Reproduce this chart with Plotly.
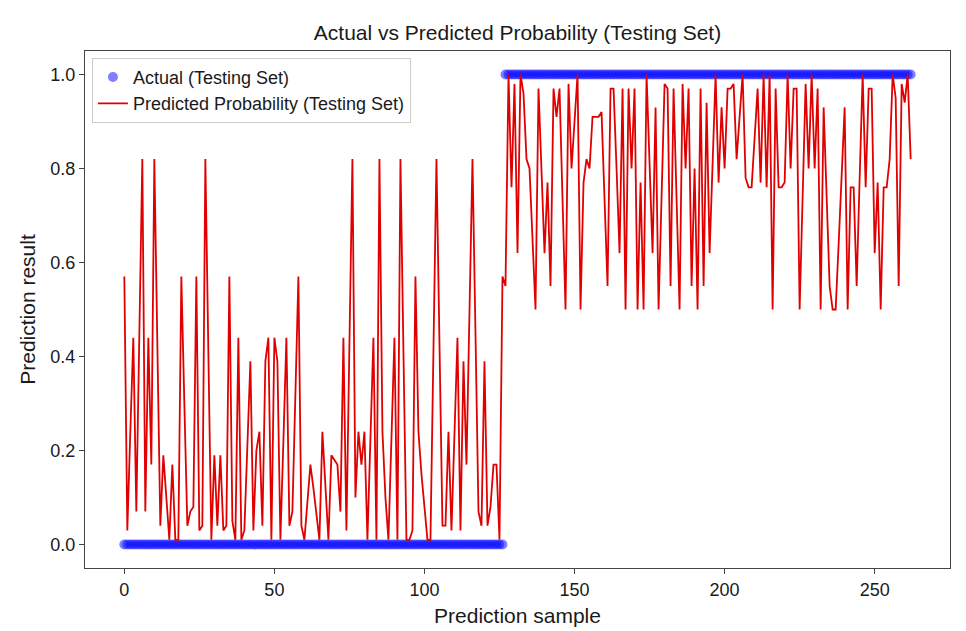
import plotly.graph_objects as go

# Predicted probability, samples 0..126 (actual class 0)
pred_low = [
    0.57, 0.03, 0.24, 0.44, 0.07, 0.45, 0.82, 0.07, 0.44, 0.17,
    0.82, 0.43, 0.04, 0.19, 0.10, 0.01, 0.17, 0.01, 0.01, 0.57,
    0.30, 0.04, 0.07, 0.08, 0.57, 0.03, 0.04, 0.82, 0.41, 0.01,
    0.19, 0.04, 0.19, 0.03, 0.04, 0.57, 0.05, 0.01, 0.44, 0.01,
    0.03, 0.21, 0.39, 0.03, 0.20, 0.24, 0.04, 0.39, 0.44, 0.01,
    0.44, 0.39, 0.01, 0.22, 0.44, 0.04, 0.07, 0.32, 0.57, 0.04,
    0.01, 0.09, 0.17, 0.12, 0.06, 0.01, 0.24, 0.12, 0.01, 0.19,
    0.18, 0.17, 0.07, 0.44, 0.03, 0.42, 0.82, 0.10, 0.24, 0.17,
    0.24, 0.01, 0.22, 0.44, 0.01, 0.82, 0.24, 0.10, 0.01, 0.22,
    0.44, 0.01, 0.82, 0.41, 0.01, 0.01, 0.03, 0.57, 0.24, 0.15,
    0.08, 0.01, 0.01, 0.41, 0.82, 0.43, 0.04, 0.04, 0.24, 0.03,
    0.23, 0.44, 0.03, 0.39, 0.17, 0.50, 0.82, 0.45, 0.07, 0.04,
    0.39, 0.04, 0.08, 0.17, 0.17, 0.01, 0.57,
]

# Predicted probability, samples 127..262 (actual class 1)
pred_high = [
    0.55, 1.00, 0.76, 0.98, 0.62, 1.00, 0.96, 0.82, 0.80, 0.65,
    0.50, 0.97, 0.80, 0.62, 0.77, 0.55, 0.97, 0.91, 0.97, 0.74,
    0.50, 0.98, 0.80, 0.90, 1.00, 0.50, 0.77, 0.82, 0.80, 0.91,
    0.91, 0.91, 0.92, 0.74, 0.55, 0.97, 0.97, 0.80, 0.62, 0.97,
    0.50, 0.97, 0.80, 0.97, 0.50, 0.77, 0.50, 1.00, 0.81, 0.62,
    0.93, 0.50, 0.74, 0.98, 0.97, 0.55, 0.97, 0.74, 0.50, 0.98,
    0.80, 0.97, 0.55, 0.80, 0.50, 0.97, 0.55, 0.94, 0.62, 0.81,
    1.00, 0.77, 0.93, 0.80, 0.97, 0.97, 0.98, 0.82, 0.91, 1.00,
    0.78, 0.76, 0.76, 0.86, 0.97, 0.77, 1.00, 0.76, 1.00, 0.50,
    0.97, 0.76, 0.76, 0.77, 1.00, 0.80, 0.97, 0.97, 0.50, 0.74,
    0.98, 0.80, 1.00, 0.80, 0.97, 0.50, 0.93, 0.74, 0.55, 0.50,
    0.50, 0.64, 0.78, 0.93, 0.50, 0.76, 0.76, 0.55, 0.78, 1.00,
    0.76, 0.97, 0.97, 0.62, 0.77, 0.50, 0.76, 0.76, 0.82, 1.00,
    0.95, 0.55, 0.98, 0.94, 1.00, 0.82,
]

n_class0 = 127
n_class1 = 136
actual = [0] * n_class0 + [1] * n_class1

predicted = pred_low + pred_high
samples = list(range(len(predicted)))

x_ticks = [0, 50, 100, 150, 200, 250]
y_ticks = [0.0, 0.2, 0.4, 0.6, 0.8, 1.0]
y_tick_labels = ["0.0", "0.2", "0.4", "0.6", "0.8", "1.0"]

FONT = "Liberation Sans, Arial, sans-serif"
INK = "#1a1a1a"

# the page body adds an 8px offset, so the figure is sized to fit the window
FIG_W, FIG_H = 958, 623

fig = go.Figure()
fig.add_trace(go.Scatter(
    x=samples, y=actual, mode="markers", name="Actual (Testing Set)",
    marker=dict(color="rgba(0,0,255,0.5)", size=10, line=dict(width=0)),
))
fig.add_trace(go.Scatter(
    x=samples, y=predicted, mode="lines",
    name="Predicted Probability (Testing Set)",
    line=dict(color="#e00000", width=1.8),
))

axis_common = dict(
    showgrid=False, zeroline=False, showline=True, mirror=True,
    linecolor="#444444", linewidth=1.2, ticks="outside", ticklen=5,
    tickwidth=1.2, tickcolor="#444444", automargin=False,
    tickfont=dict(family=FONT, size=18, color=INK),
)

fig.update_layout(
    width=FIG_W, height=FIG_H,
    margin=dict(l=77, r=16, t=43, b=63, autoexpand=False),
    paper_bgcolor="white", plot_bgcolor="white",
    font=dict(family=FONT, color=INK),
    title=dict(text="Actual vs Predicted Probability (Testing Set)",
               x=(77 + 942) / 2 / FIG_W, xref="container", xanchor="center",
               y=1 - 25 / FIG_H, yref="container", yanchor="middle",
               font=dict(family=FONT, size=21, color=INK)),
    xaxis=dict(range=[-13.1, 275.1], tickvals=x_ticks,
               title=dict(text="Prediction sample", standoff=9,
                          font=dict(family=FONT, size=21, color=INK)),
               **axis_common),
    yaxis=dict(range=[-0.05, 1.05], tickvals=y_ticks, ticktext=y_tick_labels,
               title=dict(text="Prediction result", standoff=8,
                          font=dict(family=FONT, size=21, color=INK)),
               **axis_common),
    legend=dict(x=0.008, y=0.987, xanchor="left", yanchor="top",
                bgcolor="rgba(255,255,255,0.85)", bordercolor="#cccccc",
                borderwidth=1, font=dict(family=FONT, size=18, color=INK),
                tracegroupgap=0),
    showlegend=True,
)

fig.write_html("out.html")
